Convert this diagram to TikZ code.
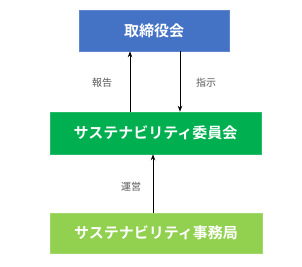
\documentclass[tikz,border=0pt]{standalone}
\usepackage{fontspec}
\newfontfamily\cjk{Noto Sans CJK JP}
\newfontfamily\cjkb{Noto Sans CJK JP Bold}
\usetikzlibrary{arrows.meta}
\definecolor{blueb}{HTML}{4472C4}
\definecolor{greenm}{HTML}{00B050}
\definecolor{greenl}{HTML}{92D050}
\definecolor{lbl}{HTML}{595959}
\tikzset{
  boxA/.style={fill=#1, draw=#1!85!white, line width=0.6pt, minimum height=41pt, text=white, font=\cjkb\fontsize{15pt}{15pt}\selectfont, inner sep=0pt},
  conn/.style={-{Stealth[length=6pt,width=4.5pt]}, line width=0.8pt, black},
  lab/.style={text=lbl, font=\cjk\fontsize{10pt}{10pt}\selectfont, inner sep=0pt}
}
\begin{document}
\begin{tikzpicture}[x=1pt,y=-1pt]
\useasboundingbox (0,0) rectangle (302,267);
\node[boxA=blueb, minimum width=150pt] (top) at (154,30.5) {取締役会};
\node[boxA=greenm, minimum width=211pt, minimum height=42pt] (mid) at (155.5,133) {サステナビリティ委員会};
\node[boxA=greenl, minimum width=212pt, minimum height=40pt] (bot) at (156,233) {サステナビリティ事務局};
\coordinate (c1) at (130,0);
\coordinate (c2) at (180,0);
\coordinate (c3) at (153,0);
\draw[conn] (mid.north -| c1) -- (top.south -| c1);
\draw[conn] (top.south -| c2) -- (mid.north -| c2);
\draw[conn] (bot.north -| c3) -- (mid.south -| c3);
\node[lab] (l1) at (102,83) {報告};
\node[lab] (l2) at (206,83) {指示};
\node[lab] (l3) at (131,187) {運営};
\end{tikzpicture}
\end{document}
